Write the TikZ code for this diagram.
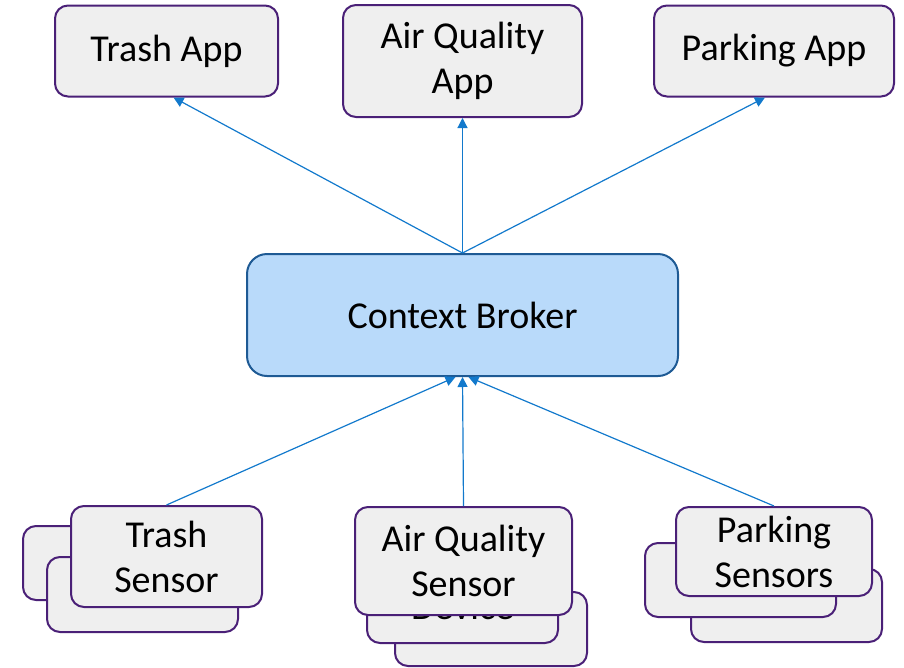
\documentclass[tikz,border=0pt]{standalone}
\usepackage{fontspec}
\setmainfont{Carlito}
\usetikzlibrary{arrows.meta}
\definecolor{boxfill}{HTML}{EFEFEF}
\definecolor{boxline}{HTML}{4A2077}
\definecolor{cbfill}{HTML}{B9DAFA}
\definecolor{cbline}{HTML}{1E5A94}
\definecolor{linkblue}{HTML}{1279CC}
\begin{document}
\begin{tikzpicture}[x=1pt,y=-1pt,
  card/.style={draw=boxline, fill=boxfill, line width=2pt, rounded corners=13pt,
    inner sep=0pt, align=center, font=\fontsize{38}{45}\selectfont},
  broker/.style={card, draw=cbline, fill=cbfill, rounded corners=20pt},
  link/.style={draw=linkblue, line width=1.2pt, -{Triangle[length=10pt,width=10pt]}}]
\useasboundingbox (0,0) rectangle (904,667);

% applications
\node[card, minimum width=223pt, minimum height=91pt] (tapp) at (166.5,51) {Trash App};
\node[card, minimum width=239pt, minimum height=112pt] (aqapp) at (462.5,61) {Air Quality\\App};
\node[card, minimum width=240pt, minimum height=91pt] (papp) at (774,51) {Parking App};

% broker
\node[broker, minimum width=431pt, minimum height=122pt] (cb) at (462.5,315) {Context Broker};

% trash sensor stack
\node[card, minimum width=191pt, minimum height=74pt] (ts1) at (118.5,563) {};
\node[card, minimum width=191pt, minimum height=75pt] (ts2) at (142.5,594.5) {};
\node[card, minimum width=191pt, minimum height=101pt] (ts) at (166.5,556.5) {Trash\\Sensor};

% air quality sensor stack (the middle card's label is mostly covered)
\node[card, minimum width=192pt, minimum height=74pt] (as3) at (491,629) {};
\node[card, minimum width=191pt, minimum height=72pt] (as2) at (462.5,607) {Device};
\node[card, minimum width=217pt, minimum height=108pt] (as) at (463.5,561) {Air Quality\\Sensor};

% parking sensor stack
\node[card, minimum width=191pt, minimum height=73pt] (ps3) at (786.5,605.5) {};
\node[card, minimum width=191pt, minimum height=74pt] (ps2) at (740.5,580) {};
\node[card, minimum width=196pt, minimum height=89pt] (ps) at (774,551.5) {Parking\\Sensors};

% broker to applications
\draw[link] (cb.north) -- ([xshift=7pt]tapp.south);
\draw[link] (cb.north) -- (aqapp.south);
\draw[link] (cb.north) -- ([xshift=-9pt]papp.south);

% sensors to broker
\draw[link] (ts.north) -- ([xshift=-7pt]cb.south);
\draw[link] (as.north) -- (cb.south);
\draw[link] (ps.north) -- ([xshift=6pt]cb.south);
\end{tikzpicture}
\end{document}
